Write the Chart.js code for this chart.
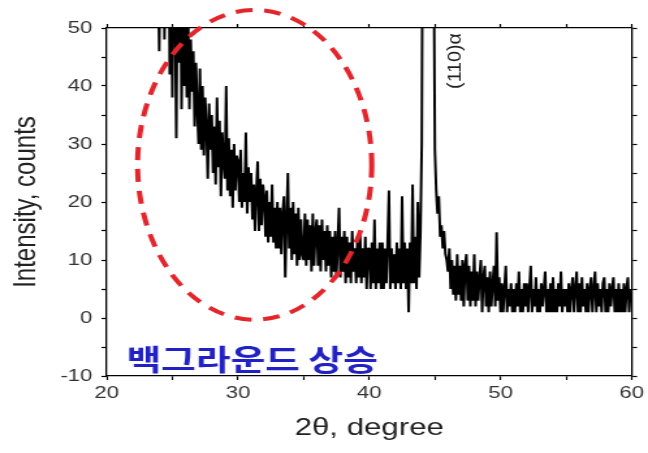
<!DOCTYPE html>
<html>
<head>
<meta charset="utf-8">
<script src="https://cdn.jsdelivr.net/npm/chart.js@4/dist/chart.umd.min.js"></script>
<style>
  html, body { margin: 0; padding: 0; background: #fff; }
</style>
</head>
<body>
<canvas id="c" width="498" height="453" style="width:648px;height:453px;display:block"></canvas>
<script>
var scanStart = 23.9;
var scanStep = 0.1;
var counts = [
    62,
    46, 66, 58, 75, 48, 70, 60, 78, 42, 64,
    38, 68, 55, 31, 62, 44, 66, 36, 58, 40,
    56, 38, 53, 36, 48, 39, 46, 33, 44, 36,
    30, 43, 29, 40, 28, 38, 33, 24, 37, 29,
    35, 25, 33, 23, 38, 26, 34, 21, 32, 27,
    24, 40, 22, 31, 21, 29, 19, 30, 22, 28,
    27, 20, 29, 19, 25, 20, 32, 18, 26, 20,
    25, 17, 23, 15, 22, 27, 15, 24, 16, 23,
    21, 14, 22, 13, 20, 14, 23, 13, 19, 12,
    20, 12, 19, 11, 18, 21, 7, 17, 25, 12,
    19, 10, 20, 11, 18, 9, 19, 10, 17, 11,
    10, 18, 9, 17, 10, 16, 8, 18, 9, 15,
    17, 9, 16, 8, 17, 10, 15, 8, 16, 9,
    15, 7, 14, 8, 15, 7, 13, 19, 7, 14,
    8, 15, 6, 14, 7, 13, 6, 15, 8, 12,
    6, 14, 7, 15, 6, 12, 7, 14, 5, 12,
    12, 5, 13, 6, 17, 5, 12, 6, 13, 5,
    13, 5, 12, 6, 13, 22, 5, 12, 6, 11,
    5, 13, 6, 12, 5, 21, 6, 13, 5, 12,
    1, 13, 6, 23, 6, 14, 5, 20, 7, 15,
    30, 95, 210, 420, 560, 480, 300, 170, 110, 70,
    29, 22, 18, 21, 14, 16, 12, 15, 11, 10,
    8, 12, 5, 10, 4, 9, 3, 11, 4, 9,
    3, 10, 2, 9, 11, 3, 9, 2, 8, 3,
    11, 2, 8, 3, 7, 10, 1, 7, 9, 2,
    7, 1, 8, 2, 6, 9, 2, 14.8, 3, 7,
    1, 6, 1, 5, 9, 1, 5, 2, 6, 1,
    5, 1, 6, 2, 8, 1, 5, 1, 6, 2,
    6, 1, 5, 9, 1, 5, 2, 7, 1, 5,
    1, 6, 2, 5, 8, 1, 5, 1, 6, 1,
    7, 1, 5, 1, 6, 2, 8, 1, 5, 2,
    5, 1, 6, 1, 5, 7, 1, 5, 8, 1,
    6, 1, 7, 2, 5, 1, 6, 1, 5, 7,
    1, 5, 8, 1, 6, 2, 5, 1, 6, 7,
    1, 5, 1, 6, 2, 5, 7, 1, 5, 1,
    6, 1, 5, 1, 6, 1, 5, 7, 1, 5,
    3
];

var xRange = [20, 60];
var yRange = [-10, 50];

// annotations
var peakLabel = "(110)\u03b1";
var peakLabelAt = [46.6, 44.3];
var noteText = "백그라운드 상승";
var noteAt = [21.5, -7.2];
// dashed ellipse: centre (2θ, counts) and radii
var ringCentre = [31.27, 26.4];
var ringRadius = [8.92, 26.7];

var points = counts.map(function(c, i) {
    return {x: +(scanStart + i * scanStep).toFixed(2), y: c};
});

var tickFont = {family: "'Liberation Sans', Arial, sans-serif", size: 17};
var titleFont = {family: "'Liberation Sans', Arial, sans-serif", size: 24};

function majorOnly(v) { return v % 10 === 0 ? v : ''; }

var decor = {
    id: 'decor',
    afterDraw: function(chart) {
        var ctx = chart.ctx;
        var xs = chart.scales.x, ys = chart.scales.y;

        // red dashed ellipse
        var cx = xs.getPixelForValue(ringCentre[0]);
        var cy = ys.getPixelForValue(ringCentre[1]);
        var rx = xs.getPixelForValue(ringCentre[0] + ringRadius[0]) - cx;
        var ry = cy - ys.getPixelForValue(ringCentre[1] + ringRadius[1]);
        ctx.save();
        ctx.strokeStyle = '#e3262b';
        ctx.lineWidth = 4;
        ctx.setLineDash([13, 9]);
        ctx.beginPath();
        ctx.ellipse(cx, cy, rx, ry, 0, 0, Math.PI * 2);
        ctx.stroke();
        ctx.restore();

        // korean note
        ctx.save();
        ctx.fillStyle = '#2222c4';
        ctx.font = "bold 29px 'Noto Sans CJK KR', sans-serif";
        ctx.textBaseline = 'middle';
        ctx.fillText(noteText, xs.getPixelForValue(noteAt[0]), ys.getPixelForValue(noteAt[1]));
        ctx.restore();

        // peak label, rotated
        ctx.save();
        ctx.translate(xs.getPixelForValue(peakLabelAt[0]), ys.getPixelForValue(peakLabelAt[1]));
        ctx.rotate(-Math.PI / 2);
        ctx.scale(1.4, 1);
        ctx.fillStyle = '#222';
        ctx.font = "14px 'Liberation Sans', Arial, sans-serif";
        ctx.textAlign = 'center';
        ctx.textBaseline = 'middle';
        ctx.fillText(peakLabel, 0, 0);
        ctx.restore();
    }
};

function axisBase(pos) {
    return {
        type: 'linear',
        position: pos,
        grid: {drawOnChartArea: false, tickLength: 4, tickColor: '#000', tickWidth: 1.2},
        border: {display: true, color: '#000', width: 1.3}
    };
}

var xAxis = axisBase('bottom');
xAxis.min = xRange[0]; xAxis.max = xRange[1];
xAxis.ticks = {stepSize: 5, callback: majorOnly, color: '#333', font: tickFont, padding: 3, maxRotation: 0};
xAxis.title = {display: true, text: '2\u03b8, degree', color: '#222', font: titleFont, padding: {top: 0, bottom: 10}};
xAxis.afterFit = function(s) { s.height = 77; };

var yAxis = axisBase('left');
yAxis.min = yRange[0]; yAxis.max = yRange[1];
yAxis.ticks = {stepSize: 5, callback: majorOnly, color: '#333', font: tickFont, padding: 7};
yAxis.title = {display: true, text: 'Intensity, counts', color: '#222', font: titleFont, padding: {top: 6, bottom: 0}};
yAxis.afterFit = function(s) { s.width = 82; };

var xTop = axisBase('top');
xTop.min = xRange[0]; xTop.max = xRange[1];
xTop.ticks = {stepSize: 5, display: false};
xTop.afterFit = function(s) { s.height = 28; };

var yRight = axisBase('right');
yRight.min = yRange[0]; yRight.max = yRange[1];
yRight.ticks = {stepSize: 5, display: false};
yRight.afterFit = function(s) { s.width = 11; };

new Chart(document.getElementById('c'), {
    type: 'line',
    data: {
        datasets: [{
            data: points,
            borderColor: '#000',
            borderWidth: 2,
            borderJoinStyle: 'bevel',
            pointRadius: 0,
            tension: 0,
            fill: false
        }]
    },
    options: {
        responsive: false,
        animation: false,
        layout: {padding: 0},
        plugins: {legend: {display: false}, tooltip: {enabled: false}},
        scales: {x: xAxis, y: yAxis, xTop: xTop, yRight: yRight}
    },
    plugins: [decor]
});
</script>
</body>
</html>
